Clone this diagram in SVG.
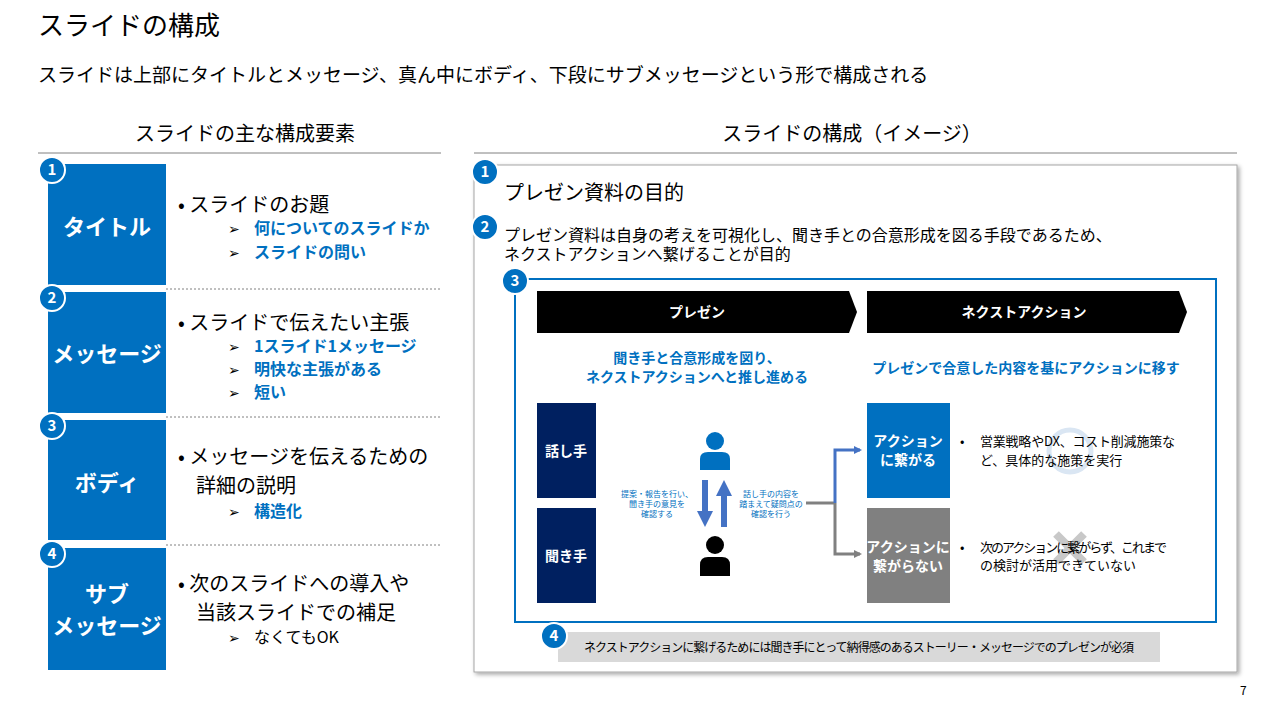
<svg xmlns="http://www.w3.org/2000/svg" width="1277" height="713" viewBox="0 0 1277 713">
<defs>
<style>
text{font-family:"Noto Sans CJK JP","Liberation Sans",sans-serif;fill:#000}
.b{fill:#fff;font-weight:bold}
.nb{fill:#0070c0;stroke:#fff;stroke-width:2}
.nt{fill:#fff;font-weight:bold;font-size:15px;text-anchor:middle}
.sub{fill:#0070c0;font-weight:bold;font-size:16px}
.dash{stroke:#808080;stroke-dasharray:2 2;stroke-width:1}
</style>
<marker id="ab" markerWidth="8" markerHeight="8" refX="6" refY="4" orient="auto" markerUnits="userSpaceOnUse"><path d="M0,0L8,4L0,8z" fill="#4472c4"/></marker>
<marker id="ag" markerWidth="8" markerHeight="8" refX="6" refY="4" orient="auto" markerUnits="userSpaceOnUse"><path d="M0,0L8,4L0,8z" fill="#808080"/></marker>
<filter id="sh"><feDropShadow dx="2" dy="2" stdDeviation="2" flood-opacity="0.35"/></filter>
</defs>
<rect width="1277" height="713" fill="#fff"/>
<text x="38" y="35" font-size="26">スライドの構成</text>
<text x="38" y="82" font-size="19">スライドは上部にタイトルとメッセージ、真ん中にボディ、下段にサブメッセージという形で構成される</text>
<text x="245" y="141" font-size="20" text-anchor="middle">スライドの主な構成要素</text>
<line x1="38" y1="153" x2="441" y2="153" stroke="#808080"/>
<text x="852" y="141" font-size="20" text-anchor="middle">スライドの構成（イメージ）</text>
<line x1="474" y1="153" x2="1237" y2="153" stroke="#808080"/>

<g id="left-title">
<rect x="48" y="164" width="118" height="121" fill="#0070c0"/>
<text x="107" y="235" class="b" font-size="22" text-anchor="middle">タイトル</text>
<circle cx="52" cy="170" r="13" class="nb"/><text x="52" y="175" class="nt">1</text>
<text x="178" y="212" font-size="20">• スライドのお題</text>
<text x="228" y="234" font-size="14">➢</text><text x="254" y="234" class="sub">何についてのスライドか</text>
<text x="228" y="258" font-size="14">➢</text><text x="254" y="258" class="sub">スライドの問い</text>
</g>
<line x1="166" y1="289" x2="441" y2="289" class="dash"/>
<g id="left-message">
<rect x="48" y="292" width="118" height="121" fill="#0070c0"/>
<text x="107" y="362" class="b" font-size="22" text-anchor="middle">メッセージ</text>
<circle cx="52" cy="298" r="13" class="nb"/><text x="52" y="303" class="nt">2</text>
<text x="178" y="330" font-size="20">• スライドで伝えたい主張</text>
<text x="228" y="352" font-size="14">➢</text><text x="254" y="352" class="sub">1スライド1メッセージ</text>
<text x="228" y="375" font-size="14">➢</text><text x="254" y="375" class="sub">明快な主張がある</text>
<text x="228" y="398" font-size="14">➢</text><text x="254" y="398" class="sub">短い</text>
</g>
<line x1="166" y1="417" x2="441" y2="417" class="dash"/>
<g id="left-body">
<rect x="48" y="420" width="118" height="120" fill="#0070c0"/>
<text x="107" y="491" class="b" font-size="22" text-anchor="middle">ボディ</text>
<circle cx="52" cy="426" r="13" class="nb"/><text x="52" y="431" class="nt">3</text>
<text x="178" y="464" font-size="20">• メッセージを伝えるための</text>
<text x="196" y="493" font-size="20">詳細の説明</text>
<text x="228" y="517" font-size="14">➢</text><text x="254" y="517" class="sub">構造化</text>
</g>
<line x1="166" y1="545" x2="441" y2="545" class="dash"/>
<g id="left-sub">
<rect x="48" y="548" width="118" height="122" fill="#0070c0"/>
<text x="107" y="602" class="b" font-size="22" text-anchor="middle">サブ</text>
<text x="107" y="634" class="b" font-size="22" text-anchor="middle">メッセージ</text>
<circle cx="52" cy="554" r="13" class="nb"/><text x="52" y="559" class="nt">4</text>
<text x="178" y="591" font-size="20">• 次のスライドへの導入や</text>
<text x="196" y="620" font-size="20">当該スライドでの補足</text>
<text x="228" y="643" font-size="14">➢</text><text x="254" y="643" font-size="16">なくてもOK</text>
</g>

<g id="panel">
<rect x="474" y="165" width="763" height="507" fill="#fff" stroke="#a6a6a6" filter="url(#sh)"/>
<circle cx="485" cy="172" r="13" class="nb"/><text x="485" y="177" class="nt">1</text>
<text x="504" y="200" font-size="20">プレゼン資料の目的</text>
<circle cx="485" cy="227" r="13" class="nb"/><text x="485" y="232" class="nt">2</text>
<text x="504" y="241" font-size="16">プレゼン資料は自身の考えを可視化し、聞き手との合意形成を図る手段であるため、</text>
<text x="504" y="260" font-size="16">ネクストアクションへ繋げることが目的</text>
<rect x="515" y="279" width="701" height="343" fill="none" stroke="#0070c0" stroke-width="2"/>
<circle cx="515" cy="281" r="13" class="nb"/><text x="515" y="286" class="nt">3</text>
</g>
<g id="chev1"><path d="M537,291H849L857,312L849,333H537z" fill="#000"/><text x="697" y="317" class="b" font-size="14" text-anchor="middle">プレゼン</text></g>
<g id="chev2"><path d="M867,291H1179L1187,312L1179,333H867z" fill="#000"/><text x="1024" y="317" class="b" font-size="14" text-anchor="middle">ネクストアクション</text></g>
<text x="697" y="363" class="sub" style="font-size:14px" text-anchor="middle">聞き手と合意形成を図り、</text>
<text x="697" y="382" class="sub" style="font-size:14px" text-anchor="middle">ネクストアクションへと推し進める</text>
<text x="1026" y="373" class="sub" style="font-size:14px" text-anchor="middle">プレゼンで合意した内容を基にアクションに移す</text>

<g id="speaker"><rect x="537" y="403" width="59" height="95" fill="#002060"/><text x="566" y="456" class="b" font-size="14" text-anchor="middle">話し手</text></g>
<g id="listener"><rect x="537" y="508" width="59" height="95" fill="#002060"/><text x="566" y="561" class="b" font-size="14" text-anchor="middle">聞き手</text></g>
<g id="person1" fill="#0070c0"><circle cx="715" cy="441" r="9"/><path d="M700,470V459Q700,452 708,452H722Q730,452 730,459V470z"/></g>
<g id="person2" fill="#000"><circle cx="715" cy="545" r="9"/><path d="M700,576V565Q700,557 708,557H722Q730,557 730,565V576z"/></g>
<g id="connectors">
<path d="M702,480H708V511H713L705,527L697,511H702z" fill="#4472c4"/>
<path d="M721,527H727V496H732L724,480L716,496H721z" fill="#4472c4"/>
<path d="M806,503H835" stroke="#808080" stroke-width="3" fill="none"/>
<path d="M835,503V450H860" stroke="#4472c4" stroke-width="3" fill="none" marker-end="url(#ab)"/>
<path d="M835,503V554H860" stroke="#808080" stroke-width="3" fill="none" marker-end="url(#ag)"/>
</g>
<g font-size="8" text-anchor="middle">
<text x="657" y="497" style="fill:#0070c0">提案・報告を行い、</text>
<text x="657" y="507" style="fill:#0070c0">聞き手の意見を</text>
<text x="657" y="517" style="fill:#0070c0">確認する</text>
<text x="771" y="497" style="fill:#0070c0">話し手の内容を</text>
<text x="771" y="507" style="fill:#0070c0">踏まえて疑問点の</text>
<text x="771" y="517" style="fill:#0070c0">確認を行う</text>
</g>
<g id="act-yes"><rect x="867" y="403" width="83" height="95" fill="#0070c0"/>
<text x="908" y="446" class="b" font-size="14" text-anchor="middle">アクション</text><text x="908" y="465" class="b" font-size="14" text-anchor="middle">に繋がる</text></g>
<circle cx="1070" cy="451" r="21" fill="none" stroke="#dae6f3" stroke-width="5"/>
<text x="960" y="446" font-size="13">•</text>
<text x="980" y="446" font-size="13" textLength="195">営業戦略やDX、コスト削減施策な</text>
<text x="980" y="465" font-size="13">ど、具体的な施策を実行</text>
<g id="act-no"><rect x="867" y="508" width="83" height="95" fill="#808080"/>
<text x="908" y="552" class="b" font-size="14" text-anchor="middle">アクションに</text><text x="908" y="571" class="b" font-size="14" text-anchor="middle">繋がらない</text></g>
<path d="M1056,534L1084,562M1084,534L1056,562" stroke="#c8c8c8" stroke-width="8"/>
<text x="960" y="552" font-size="13">•</text>
<text x="980" y="552" font-size="13" textLength="187">次のアクションに繋がらず、これまで</text>
<text x="980" y="570" font-size="13">の検討が活用できていない</text>
<g id="submsg"><rect x="558" y="632" width="602" height="30" fill="#d9d9d9"/>
<text x="859" y="652" font-size="12" text-anchor="middle" textLength="550">ネクストアクションに繋げるためには聞き手にとって納得感のあるストーリー・メッセージでのプレゼンが必須</text>
<circle cx="554" cy="636" r="13" class="nb"/><text x="554" y="641" class="nt">4</text></g>
<text x="1240" y="695" font-size="12" font-family="Liberation Sans">7</text>
</svg>
